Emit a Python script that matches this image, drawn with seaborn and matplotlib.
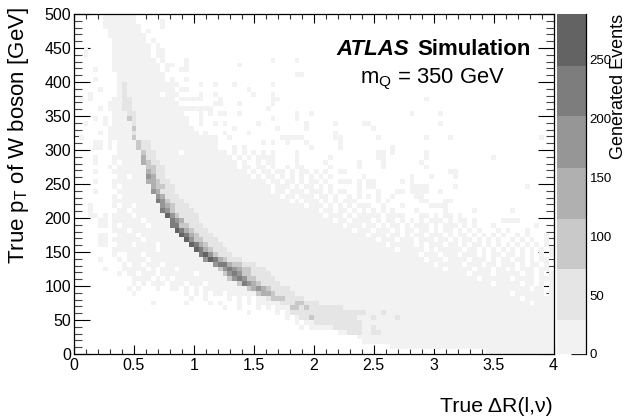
import numpy as np
import pandas as pd
import seaborn as sns
import matplotlib
matplotlib.use("Agg")
import matplotlib.pyplot as plt
from matplotlib.colors import ListedColormap, BoundaryNorm
from matplotlib.ticker import FixedLocator

sns.set_theme(style="white")
plt.rcParams["font.family"] = ["Liberation Sans", "DejaVu Sans"]
plt.rcParams["mathtext.default"] = "regular"

# Event-count bands of the colour scale
band_edges = [0, 28.5, 72, 115, 158, 202, 245, 289]
band_colors = ["#f2f2f2", "#e5e5e5", "#c9c9c9", "#b0b0b0", "#969696", "#7d7d7d", "#636363"]
band_counts = [10, 50, 93, 136, 180, 223, 267]

x_ticks = [0, 0.5, 1, 1.5, 2, 2.5, 3, 3.5, 4]
x_tick_labels = ["0", "0.5", "1", "1.5", "2", "2.5", "3", "3.5", "4"]
y_ticks = [0, 50, 100, 150, 200, 250, 300, 350, 400, 450, 500]
z_ticks = [0, 50, 100, 150, 200, 250]
x_max = 4.0
y_max = 500.0

# Histogram cells, top row first, in groups of ten bins.
# '.' empty, digit = colour band, '#' = ten bins of band 1.
event_rows = [
"......1111 111",
"......1111 111.....1.",
"......1111 1111....1.",
".......111 1111.1",
".......111 11111",
"........11 11111.1",
"........11 111111.1",
"..1.....11 111111.11.",
"..1.....11 111111.11.",
"........11 1111111.1. ...1...... .......... .1....1",
"........11 11111111.1 1..1...... ....1",
"....1...11 11111111.1 ..11",
".........1 111111111. .......... .......... ......11",
"....1....1 111111111. 1..1",
".........1 2111111111 11....1..1 ...1...... .1",
".....1...1 2111111111 1.11...... ......1",
"...1.....1 21111111.1 11....1..1 .......1.. .1",
".1.1....11 2211111111 1.11111... 1......... .11 .......... .......... ...1",
".......111 2211111111 11.......1 1...1..... .1",
".....1.111 2211111111 111111111. .......... 1",
"........11 1221111111 111...1.1. 11..1..... ......1..1 .......... .......... 1.....1",
"....1.1.11 1321111111 1111..1... .......... .1....1",
"..1...1.11 1121111111 1111..1..1 .1......1. ........1. ....1 11........ ......1",
".......111 1131111111 11111..... ...1...... ..1.....1. .......... ..1",
".....1.111 1121111111 111111.1.. .1....1... .......... ....1",
".1.....111 1131111111 # ..1....... ...11111.. ....11.... ...1...... ...1....1. .......... .......1",
"....11.1.1 1113221111 # .........1 .1..1...1. .....1",
"....11.1.11 1113221111 # ...1.1.... .........1 .....1.... ......1",
".........1 1111322111 11.1111111 11.1.1.1.1 .1....1... .......... ...11.1... ...1",
"....1...11 1111422111 # 111.1.1.11 11....1... ...1...... ...11..... ...1...... .......1",
"....1...1. 1111432211 # 1111.1..1. 11....1... ..1......1 ....1..... ..1",
".......1.1 1111133221 # 1111.11.11 .1..1.11.. ...1.....1 ....1..... ...1",
"....1...11 1111143221 # 111111.1.1 1.11.1.11. 1.1..11... .......... ........11",
".........1 1.11154221 # 1111111.1. 11.1.1.1.1 .1.1...... 1......... 1...1....1",
"....1...11 1111144322 # # .11.11.1.1 1.1..111.1 .11.....1. 1",
"........1. 1111114332 2111111111 # 1.111.1.11 .1.1.....1 .11....... 1111.....1 .......... ....1",
"....1....1 1111115422 2111111111 # 1.11.111.1 11.1.11..1 ...1...11. 1111..1",
"........1. 1111111542 2211111111 # 111.11.111 .11.1..1.1 .1.1..1... .11",
"........11 1111111653 2221111111 # 11111.1.11 1.1.1.111. ...1.1.... ..11...11",
"...1....1. 11.1111154 3222111111 # 11111111.1 11.1.1.1.1 11..1...1. ....1111",
"...1.....1 1.11111165 3222211111 # # 1.11.11.1. 1.1.1.1... .1.....1 ...1 .1",
"...11.1.11 11.1111117 5322221111 # # 11.111.1.1 1111.1111. ..11.1.11. 1",
".....11.11 1111.11111 6542221111 # # 1111.11.11 11.1.11.1. 1.1.111.1. 11.1.....1 111",
".....11.1. 11111.1111 6633222111 # # 111111.111 .11.1.11.1 .111.1.111 .1.1...1.. ......1",
"........11 1.11111111 1764322211 # # 11111111.1 11.111.1.1 1.11.1.11. 1.1.1...1. 1...1",
".....11..1 111.111111 1176432221 # # # 1.111.11.1 .11.111.1. 11.1.1.1.1 ..1.1...1",
".....11.11 1111.11111 1117533222 # # # 111.111.11 1.111.11.1 .11.1.1.1. .1.1.1..1.",
".....11..1 11.1111.11 1111764322 2111111111 # # 11111.1111 1.1.111.11 .1.11.1.1. 1.1.1.1.1.",
"........11 1111111.11 1111176432 2211111111 # # 1111111.11 111.1.1111 1.11.1.1.1 .1.1.1.1.1",
"........1. .111.11111 1111116753 2221111111 # # # 11.111.111 .111.1.11. 11.1.1.1.1",
".....1...1 .1111.1111 1111111576 4322211111 # # # 111.111.11 11.111.1.1 1.11.1.11.",
".......... 1.11.111.1 1111111115 6643322211 # # # 11111.1111 1.111.11.1 11.1.11.1.",
"......1... 11111.1.11 1.11111111 3565433222 # # # 1111111.11 111.111.11 .1.111.11.",
".........1 .11.111.11 11111.1111 1356533222 2111111111 # # # 11.1111.11 111.11.1.1",
".......... ..1111.1.1 .111111111 1135653322 2211111111 # # # 1111.11111 1.1111.111",
".......... ..1.1.111. 111.111.11 1111365432 2221111111 # # # 1111111.11 111.11.1.1",
".......... .1.1...1.. 11.1.1.111 1111113454 3222211111 # # # # 11111.11.1",
".......... ..1....... ...1.1.1.1 1.11111134 4322221111 # # # # 1.111111.1",
".......... .......... ....1..1.. ..1.1.1.11 2333222211 # # # # 111.111111",
".......... ......1... ...1....1. 1...1.1.11 1112223322 2111111111 # # # 11111.1111",
".......... .......... .......... .1..1...1. 1.11133232 2222221111 # # # #",
".......... .......... .......... ......1... ..1.122222 2222222222 2111211111 # # #",
".......... .......... .......... .......... ....1.1223 2222222221 1121111211 # # #",
".......... .......... .......... .......... ......1.11 2222222222 # # # #",
".......... .......... .......... .......... .......1.1 1111222222 1121111111 # # #",
".......... .......... .......... .......... .......... .....11222 1122111111 # # #",
".......... .......... .......... .......... .......... .........1 # # # #",
".......... .......... .......... .......... .......... .......... # # # #",
".......... .......... .......... .......... .......... .......... ......1111 # # #",
".......... .......... .......... .......... .......... .......... .......... .......... ......1111 #",
]


def expand(row):
    groups = ["1" * 10 if g == "#" else g.ljust(10, ".")[:10] for g in row.split()]
    return "".join(groups).ljust(100, ".")[:100]


counts = np.array(
    [[0 if ch == "." else band_counts[int(ch) - 1] for ch in expand(r)] for r in event_rows],
    dtype=float,
)
n_rows, n_cols = counts.shape
df = pd.DataFrame(counts)

W, H = 628, 417
fig = plt.figure(figsize=(W / 100, H / 100), dpi=100, facecolor="white")
ax = fig.add_axes([74 / W, 1 - 354 / H, (553.5 - 74) / W, 340 / H])
cax = fig.add_axes([557 / W, 1 - 354 / H, 28.5 / W, 340 / H])

cmap = ListedColormap(band_colors)
norm = BoundaryNorm(band_edges, cmap.N)
sns.heatmap(
    df, ax=ax, cbar_ax=cax, mask=counts == 0, cmap=cmap, norm=norm,
    xticklabels=False, yticklabels=False, cbar=True,
    cbar_kws={"spacing": "proportional", "ticks": z_ticks},
)


def to_x(v):
    return np.asarray(v, dtype=float) / x_max * n_cols


def to_y(v):
    return (y_max - np.asarray(v, dtype=float)) / y_max * n_rows


ax.set_xlim(0, n_cols)
ax.set_ylim(n_rows, 0)
ax.set_xticks(to_x(x_ticks))
ax.set_xticklabels(x_tick_labels, fontsize=11.5, color="black")
ax.set_xticks(to_x(np.arange(0, 4.01, 0.1)), minor=True)
ax.set_yticks(to_y(y_ticks))
ax.set_yticklabels([str(v) for v in y_ticks], fontsize=11.5, color="black")
ax.set_yticks(to_y(np.arange(0, 501, 10)), minor=True)
ax.tick_params(axis="x", which="major", direction="in", length=6.5, width=0.8,
               top=True, bottom=True, pad=3, color="black")
ax.tick_params(axis="x", which="minor", direction="in", length=3.5, width=0.8,
               top=True, bottom=True, color="#333333")
ax.tick_params(axis="y", which="major", direction="in", length=11.5, width=0.8,
               left=True, right=True, pad=2, color="black")
ax.tick_params(axis="y", which="minor", direction="in", length=5.8, width=0.8,
               left=True, right=True, color="#444444")
for s in ax.spines.values():
    s.set_visible(True)
    s.set_color("black")
    s.set_linewidth(0.9)
ax.grid(False)

cb = ax.collections[0].colorbar
cb.outline.set_visible(False)
cax.yaxis.set_major_locator(FixedLocator(z_ticks))
cax.set_yticklabels([str(v) for v in z_ticks], fontsize=9.5, color="black")
cax.minorticks_off()
cax.tick_params(axis="y", which="major", direction="in", length=10.8, width=0.9,
                right=True, left=False, pad=3, color="#222222")
cax.spines["right"].set_visible(True)
cax.spines["right"].set_color("black")
cax.spines["right"].set_linewidth(0.9)


def ftext(px, py, s, **kw):
    return fig.text(px / W, 1 - py / H, s, color="black", **kw)


ftext(409, 55, "ATLAS", fontsize=16, fontweight="bold", fontstyle="italic", ha="right", va="baseline")
ftext(531, 55, "Simulation", fontsize=16, fontweight="bold", ha="right", va="baseline")
ftext(360, 83, "m$_{Q}$ = 350 GeV", fontsize=15.8, ha="left", va="baseline")
ftext(553, 412, "True \u0394R(l,\u03bd)", fontsize=15.3, ha="right", va="baseline")
ftext(19, 7, "True p$_{T}$ of W boson [GeV]", fontsize=16, rotation=90, ha="center", va="top")
ftext(618.5, 14, "Generated Events", fontsize=13, rotation=90, ha="center", va="top")

fig.savefig("out.png", dpi=100, facecolor="white")
